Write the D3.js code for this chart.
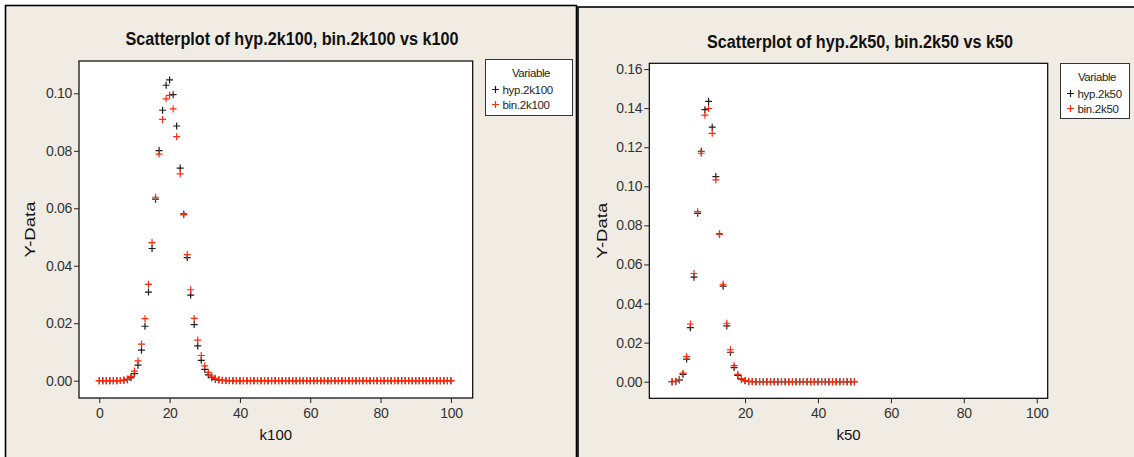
<!DOCTYPE html>
<html>
<head>
<meta charset="utf-8">
<script src="https://cdn.jsdelivr.net/npm/d3@7"></script>
<style>
body { margin: 0; background: #fff; }
text { font-family: "Liberation Sans", Arial, sans-serif; }
</style>
</head>
<body>
<svg id="svg1" width="1134" height="457"></svg>
<script>
// x values (k) of both plots
var k100 = d3.range(0, 101);
var k50 = d3.range(0, 51);

// y values, k = 0..100
var hyp2k100 = [
  0, 0, 0, 0, 0, 0.00001, 0.00003, 0.00012, 0.00036, 0.00101,
  0.00247, 0.00539, 0.01062, 0.01895, 0.03084, 0.04600, 0.06315, 0.08007, 0.09410, 0.10280,
  0.10467, 0.09954, 0.08862, 0.07399, 0.05804, 0.04283, 0.02978, 0.01954, 0.01210, 0.00709,
  0.00393, 0.00206, 0.00103, 0.00049, 0.00022, 0.00009, 0.00004, 0.00001, 0, 0,
  0, 0, 0, 0, 0, 0, 0, 0, 0, 0,
  0, 0, 0, 0, 0, 0, 0, 0, 0, 0,
  0, 0, 0, 0, 0, 0, 0, 0, 0, 0,
  0, 0, 0, 0, 0, 0, 0, 0, 0, 0,
  0, 0, 0, 0, 0, 0, 0, 0, 0, 0,
  0, 0, 0, 0, 0, 0, 0, 0, 0, 0,
  0
];
var bin2k100 = [
  0, 0, 0, 0, 0, 0.00002, 0.00006, 0.00020, 0.00058, 0.00148,
  0.00336, 0.00688, 0.01275, 0.02158, 0.03353, 0.04806, 0.06383, 0.07885, 0.09090, 0.09807,
  0.09930, 0.09457, 0.08490, 0.07198, 0.05773, 0.04388, 0.03164, 0.02168, 0.01413, 0.00877,
  0.00519, 0.00293, 0.00158, 0.00081, 0.00040, 0.00019, 0.00009, 0.00004, 0.00001, 0,
  0, 0, 0, 0, 0, 0, 0, 0, 0, 0,
  0, 0, 0, 0, 0, 0, 0, 0, 0, 0,
  0, 0, 0, 0, 0, 0, 0, 0, 0, 0,
  0, 0, 0, 0, 0, 0, 0, 0, 0, 0,
  0, 0, 0, 0, 0, 0, 0, 0, 0, 0,
  0, 0, 0, 0, 0, 0, 0, 0, 0, 0,
  0
];

// k = 0..50
var hyp2k50 = [
  0.00001, 0.00014, 0.00090, 0.00377, 0.01158, 0.02765, 0.05349, 0.08617, 0.11793, 0.13922,
  0.14345, 0.13024, 0.10498, 0.07561, 0.04891, 0.02854, 0.01508, 0.00724, 0.00316, 0.00126,
  0.00046, 0.00015, 0.00005, 0.00001, 0, 0, 0, 0, 0, 0,
  0, 0, 0, 0, 0, 0, 0, 0, 0, 0,
  0, 0, 0, 0, 0, 0, 0, 0, 0, 0,
  0
];
var bin2k50 = [
  0.00001, 0.00018, 0.00109, 0.00437, 0.01284, 0.02953, 0.05537, 0.08701, 0.11692, 0.13641,
  0.13982, 0.12711, 0.10328, 0.07547, 0.04987, 0.02992, 0.01636, 0.00818, 0.00375, 0.00158,
  0.00061, 0.00022, 0.00007, 0.00002, 0.00001, 0, 0, 0, 0, 0,
  0, 0, 0, 0, 0, 0, 0, 0, 0, 0,
  0, 0, 0, 0, 0, 0, 0, 0, 0, 0,
  0
];

var xTicks100 = [0, 20, 40, 60, 80, 100];
var xTicks50 = [20, 40, 60, 80, 100];
var yTicks100 = [0, 0.02, 0.04, 0.06, 0.08, 0.10];
var yTicks50 = [0, 0.02, 0.04, 0.06, 0.08, 0.10, 0.12, 0.14, 0.16];

var svg = d3.select("#svg1");
var plus = "M-3.5,0H3.5M0,-3.5V3.5";
var BLACK = "#1c1c1c", RED = "#ff2a0a";

function scatter(p) {
    // panel frame
    svg.append("rect")
       .attr("x", p.frame[0]).attr("y", p.frame[1])
       .attr("width", p.frame[2]).attr("height", p.frame[3])
       .attr("fill", "#f0ece4")
       .attr("stroke", "#000")
       .attr("stroke-width", 1.6);

    svg.append("text")
       .attr("x", p.titleX)
       .attr("y", p.titleY)
       .attr("text-anchor", "middle")
       .attr("font-size", "19px")
       .attr("font-weight", "bold")
       .attr("fill", "#111")
       .attr("textLength", p.titleLen)
       .attr("lengthAdjust", "spacingAndGlyphs")
       .text(p.title);

    var x = d3.scaleLinear().domain(p.xDomain).range([p.left, p.right]);
    var y = d3.scaleLinear().domain(p.yDomain).range([p.bottom, p.top]);

    svg.append("rect")
       .attr("x", p.left).attr("y", p.top)
       .attr("width", p.right - p.left).attr("height", p.bottom - p.top)
       .attr("fill", "#fff")
       .attr("stroke", "#000")
       .attr("stroke-width", 1.2);

    var gx = svg.append("g")
       .attr("transform", "translate(0," + p.bottom + ")")
       .call(d3.axisBottom(x).tickValues(p.xTicks).tickSize(5).tickPadding(5).tickFormat(d3.format("d")));
    var gy = svg.append("g")
       .attr("transform", "translate(" + p.left + ",0)")
       .call(d3.axisLeft(y).tickValues(p.yTicks).tickSize(5).tickPadding(2).tickFormat(d3.format(".2f")));

    [gx, gy].forEach(function(g) {
        g.select(".domain").remove();
        g.selectAll("line").attr("stroke", "#222");
        g.selectAll("text")
         .attr("font-family", "Liberation Sans, Arial, sans-serif")
         .attr("font-size", "14px")
         .attr("letter-spacing", "-0.3px")
         .attr("fill", "#333");
    });

    svg.append("text")
       .attr("x", (p.left + p.right) / 2)
       .attr("y", 440)
       .attr("text-anchor", "middle")
       .attr("font-size", "15px")
       .attr("fill", "#111")
       .text(p.xLabel);

    svg.append("text")
       .attr("transform", "translate(" + p.yLabelX + "," + ((p.top + p.bottom) / 2) + ") rotate(-90)")
       .attr("text-anchor", "middle")
       .attr("dy", "0.35em")
       .attr("font-size", "15px")
       .attr("fill", "#111")
       .attr("textLength", 56)
       .attr("lengthAdjust", "spacingAndGlyphs")
       .text("Y-Data");

    // black first, red drawn on top
    [[p.ys[0], BLACK], [p.ys[1], RED]].forEach(function(s) {
        svg.append("g").selectAll("path")
           .data(p.ks)
           .enter().append("path")
           .attr("d", plus)
           .attr("transform", function(d, i) { return "translate(" + x(d) + "," + y(s[0][i]) + ")"; })
           .attr("fill", "none")
           .attr("stroke", s[1])
           .attr("stroke-width", 1.2);
    });

    // legend
    var lg = svg.append("g").attr("transform", "translate(" + p.legend[0] + "," + p.legend[1] + ")");
    lg.append("rect")
      .attr("width", p.legend[2]).attr("height", p.legend[3])
      .attr("fill", "#fff").attr("stroke", "#333").attr("stroke-width", 1);
    lg.append("text")
      .attr("x", p.legend[2] / 2 + 2).attr("y", 17)
      .attr("text-anchor", "middle")
      .attr("font-size", "11.5px").attr("letter-spacing", "-0.4px").attr("fill", "#222")
      .text("Variable");
    p.names.forEach(function(n, i) {
        var ry = 30 + i * 15;
        lg.append("path")
          .attr("d", plus)
          .attr("transform", "translate(10," + ry + ")")
          .attr("fill", "none")
          .attr("stroke", i == 0 ? BLACK : RED)
          .attr("stroke-width", 1.2);
        lg.append("text")
          .attr("x", 17).attr("y", ry + 4)
          .attr("font-size", "11.5px").attr("letter-spacing", "-0.3px").attr("fill", "#222")
          .text(n);
    });
}

scatter({
    frame: [5.5, 5.5, 571, 480],
    title: "Scatterplot of hyp.2k100, bin.2k100 vs k100",
    titleX: 292, titleY: 45, titleLen: 333,
    left: 79, right: 472.7, top: 61, bottom: 398,
    xDomain: [-5.77, 106.2], yDomain: [-0.00602, 0.11124],
    xTicks: xTicks100, yTicks: yTicks100,
    xLabel: "k100", yLabelX: 30,
    ks: k100, ys: [hyp2k100, bin2k100],
    names: ["hyp.2k100", "bin.2k100"],
    legend: [485.5, 59.5, 87, 56]
});

scatter({
    frame: [578, 7, 600, 480],
    title: "Scatterplot of hyp.2k50, bin.2k50 vs k50",
    titleX: 860, titleY: 48, titleLen: 306,
    left: 649.3, right: 1047.7, top: 63.3, bottom: 398.3,
    xDomain: [-6.25, 103], yDomain: [-0.0085, 0.16295],
    xTicks: xTicks50, yTicks: yTicks50,
    xLabel: "k50", yLabelX: 602,
    ks: k50, ys: [hyp2k50, bin2k50],
    names: ["hyp.2k50", "bin.2k50"],
    legend: [1060.5, 63.5, 69, 55]
});
</script>
</body>
</html>
